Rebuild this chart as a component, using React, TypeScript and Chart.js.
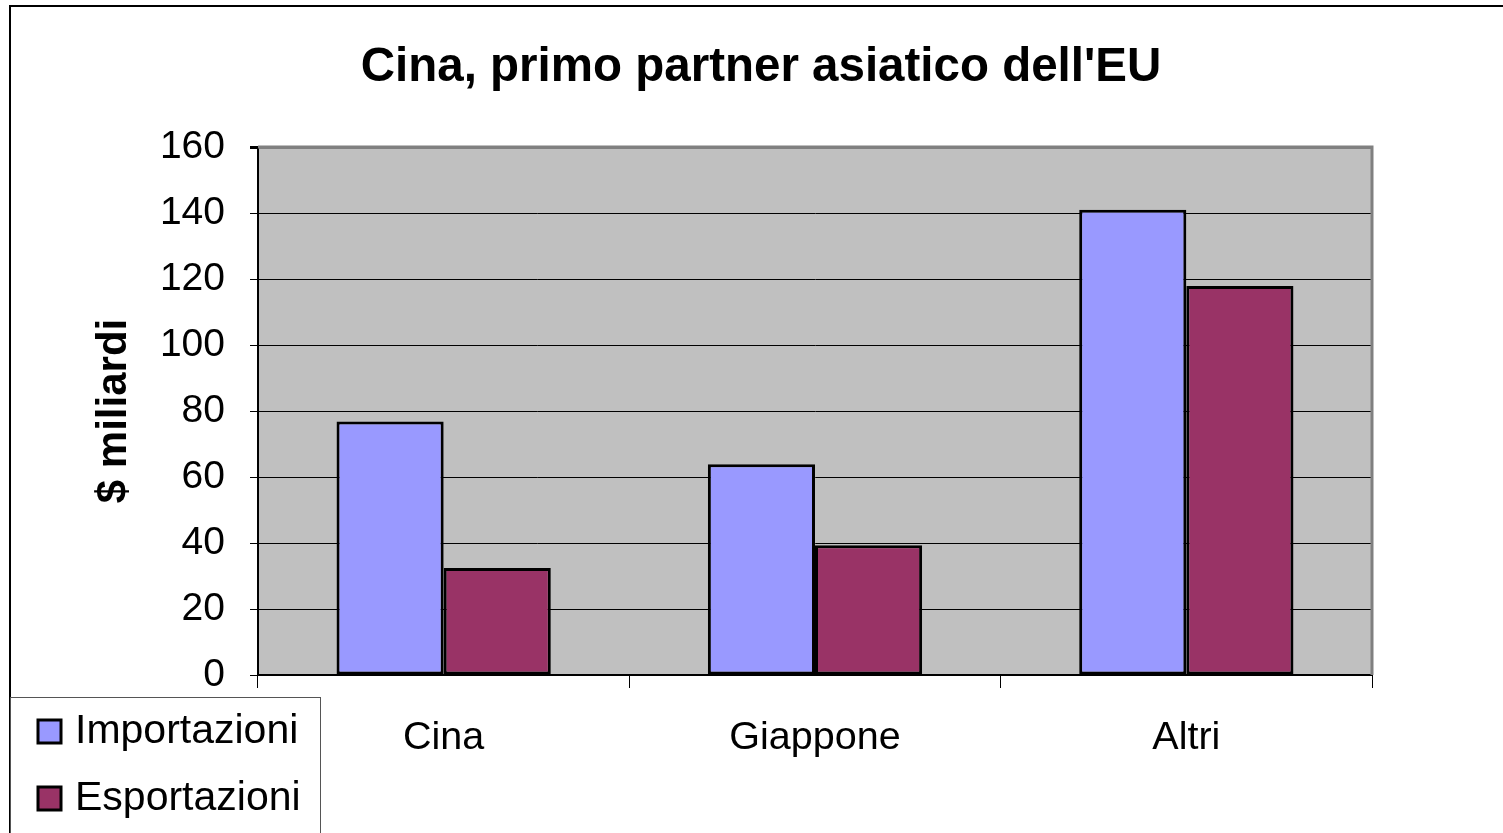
import React, { useEffect, useRef } from "react";
import { Chart, registerables } from "chart.js";

Chart.register(...registerables);

const chartTitle = "Cina, primo partner asiatico dell'EU";
const yAxisTitle = "$ miliardi";
const categories = ["Cina", "Giappone", "Altri"];
const importazioni = [76.8, 63.9, 141];
const esportazioni = [32.4, 39.3, 117.9];
const seriesNames = ["Importazioni", "Esportazioni"];
const seriesColors = ["#9999FF", "#993366"];
const yMin = 0;
const yMax = 160;
const yStep = 20;

const FONT = "'Liberation Sans', Arial, sans-serif";

const decorPlugin = {
  id: "decor",
  beforeDraw(chart: any) {
    const { ctx, chartArea } = chart;
    ctx.save();
    ctx.fillStyle = "#ffffff";
    ctx.fillRect(0, 0, chart.width, chart.height);
    ctx.fillStyle = "#C0C0C0";
    ctx.fillRect(chartArea.left, chartArea.top, chartArea.right - chartArea.left, chartArea.bottom - chartArea.top);
    // outer frame
    ctx.strokeStyle = "#000000";
    ctx.lineWidth = 2;
    ctx.strokeRect(10, 6, 3000, 3000);
    // title
    ctx.fillStyle = "#000000";
    ctx.font = `bold 47.5px ${FONT}`;
    ctx.textAlign = "center";
    ctx.textBaseline = "middle";
    ctx.fillText(chartTitle, 761, 68);
    ctx.restore();
  },
  beforeDatasetsDraw(chart: any) {
    const { ctx, chartArea } = chart;
    ctx.save();
    ctx.strokeStyle = "#808080";
    ctx.lineWidth = 3;
    ctx.beginPath();
    ctx.moveTo(chartArea.left, chartArea.top);
    ctx.lineTo(chartArea.right, chartArea.top);
    ctx.lineTo(chartArea.right, chartArea.bottom);
    ctx.stroke();
    ctx.restore();
  },
  afterDraw(chart: any) {
    const { ctx } = chart;
    ctx.save();
    // legend box
    ctx.fillStyle = "#ffffff";
    ctx.fillRect(10, 697, 310, 200);
    ctx.strokeStyle = "#555555";
    ctx.lineWidth = 1;
    ctx.strokeRect(10.5, 697.5, 310, 200);
    const rows = [731, 798];
    chart.data.datasets.forEach((ds: any, i: number) => {
      const cy = rows[i];
      ctx.fillStyle = ds.backgroundColor;
      ctx.fillRect(38, cy - 11, 23, 23);
      ctx.strokeStyle = "#000000";
      ctx.lineWidth = 3;
      ctx.strokeRect(38, cy - 11, 23, 23);
      ctx.fillStyle = "#000000";
      ctx.font = `41px ${FONT}`;
      ctx.textAlign = "left";
      ctx.textBaseline = "middle";
      ctx.fillText(ds.label, 75, cy + 1);
    });
    ctx.restore();
  },
};

export default function App() {
  const ref = useRef<HTMLCanvasElement>(null);
  useEffect(() => {
    if (!ref.current) return;
    const chart = new Chart(ref.current, {
      type: "bar",
      data: {
        labels: categories,
        datasets: [
          {
            label: seriesNames[0],
            data: importazioni,
            backgroundColor: seriesColors[0],
            borderColor: "#000000",
            borderWidth: 3,
            borderSkipped: false,
          },
          {
            label: seriesNames[1],
            data: esportazioni,
            backgroundColor: seriesColors[1],
            borderColor: "#000000",
            borderWidth: 3,
            borderSkipped: false,
          },
        ],
      },
      plugins: [decorPlugin],
      options: {
        responsive: false,
        animation: false,
        datasets: { bar: { categoryPercentage: 0.577, barPercentage: 1 } },
        layout: { padding: { left: 0, top: 147, right: 131, bottom: 0 } },
        plugins: { legend: { display: false }, title: { display: false }, tooltip: { enabled: false } },
        scales: {
          x: {
            offset: true,
            afterFit: (s: any) => {
              s.height = 158;
            },
            grid: { offset: true, drawOnChartArea: false, tickLength: 13, color: "#000000", lineWidth: 1 },
            border: { display: true, color: "#000000", width: 2 },
            ticks: { color: "#000000", font: { family: FONT, size: 39.5 }, padding: 26 },
          },
          y: {
            min: yMin,
            max: yMax,
            afterFit: (s: any) => {
              s.width = 258;
            },
            grid: {
              color: (c: any) => (c.tick && c.tick.value === yMax ? "#808080" : "#000000"),
              lineWidth: (c: any) => (c.tick && c.tick.value === yMax ? 3 : 1),
              tickColor: "#000000",
              tickLength: 8,
            },
            border: { display: true, color: "#000000", width: 2 },
            ticks: { stepSize: yStep, color: "#000000", font: { family: FONT, size: 39 }, padding: 25 },
            title: {
              display: true,
              text: yAxisTitle,
              color: "#000000",
              font: { family: FONT, size: 42, weight: "bold" },
              padding: { top: 89, bottom: 0 },
            },
          },
        },
      },
    });
    return () => chart.destroy();
  }, []);
  return (
    <div style={{ position: "fixed", left: 0, top: 0, width: 1503, height: 833, background: "#fff" }}>
      <canvas ref={ref} width={1503} height={833} style={{ display: "block" }} />
    </div>
  );
}
